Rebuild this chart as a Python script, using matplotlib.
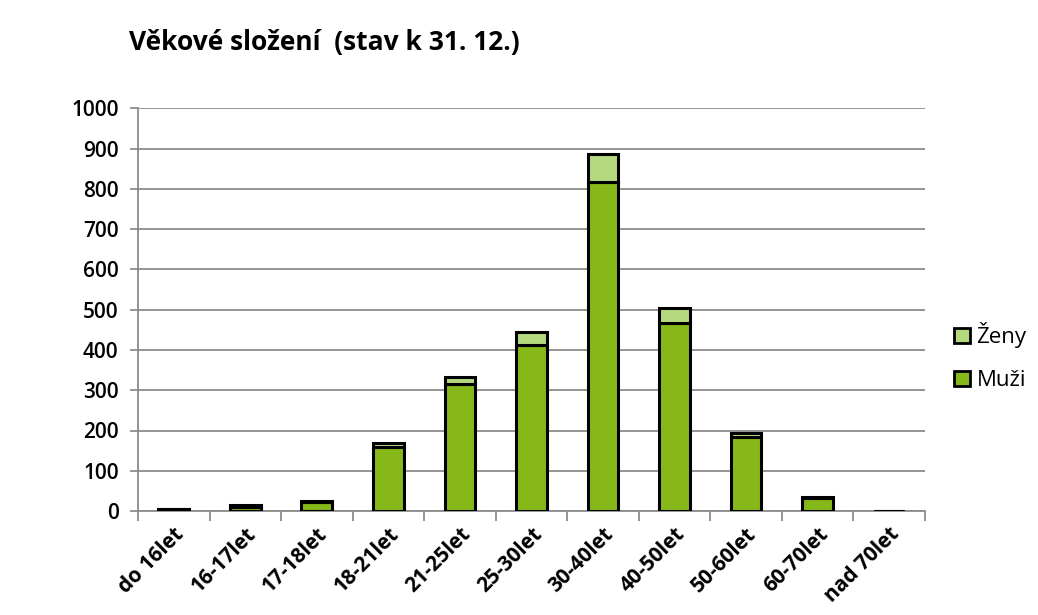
import numpy as np
import matplotlib.pyplot as plt

plt.rcParams['font.family'] = ['Open Sans', 'DejaVu Sans']

categories = ["do 16let", "16-17let", "17-18let", "18-21let", "21-25let", "25-30let",
              "30-40let", "40-50let", "50-60let", "60-70let", "nad 70let"]
muzi = [4, 9, 22, 160, 315, 412, 818, 466, 184, 33, 0]
zeny = [2, 5, 3, 10, 18, 32, 68, 38, 10, 3, 0]
yticks = list(range(0, 1001, 100))

x = np.arange(len(categories))

fig = plt.figure(figsize=(10.38, 6.15), dpi=100)
ax = fig.add_axes([0.133, 0.169, 0.758, 0.655])

ax.bar(x, muzi, width=0.43, color="#86b81a", edgecolor="black", linewidth=2.2, label="Muži", zorder=3)
ax.bar(x, zeny, width=0.43, bottom=muzi, color="#b5d97e", edgecolor="black", linewidth=2.2,
       label="Ženy", zorder=3)

ax.set_ylim(0, 1000)
ax.set_xlim(-0.5, len(categories) - 0.5)
ax.set_yticks(yticks)
ax.set_yticklabels([str(v) for v in yticks], fontweight="semibold")
ax.yaxis.grid(True, color="#8c8c8c", linewidth=1.3, zorder=0)
ax.tick_params(axis="y", length=6, width=1.3, color="#8c8c8c", labelsize=15, pad=8)

ax.set_xticks(x)
ax.set_xticklabels(categories, rotation=45, ha="right", rotation_mode="anchor",
                   fontsize=15, fontweight="bold")
ax.set_xticks(np.arange(len(categories) + 1) - 0.5, minor=True)
ax.tick_params(axis="x", which="major", length=0, pad=9)
ax.tick_params(axis="x", which="minor", length=7, width=1.3, color="#8c8c8c")

for s in ["top", "right"]:
    ax.spines[s].set_visible(False)
for s in ["left", "bottom"]:
    ax.spines[s].set_color("#8c8c8c")
    ax.spines[s].set_linewidth(1.3)

fig.text(0.124, 0.918, "Věkové složení  (stav k 31. 12.)", fontsize=19, fontweight="bold")

handles, labels = ax.get_legend_handles_labels()
leg = fig.legend(handles[::-1], labels[::-1], loc="center left", bbox_to_anchor=(0.9, 0.42),
                 frameon=False, fontsize=16, handlelength=0.7, handleheight=0.7,
                 handletextpad=0.3, labelspacing=1.0)
for h in leg.legend_handles:
    h.set_linewidth(2.0)

fig.savefig("out.png", dpi=100)
